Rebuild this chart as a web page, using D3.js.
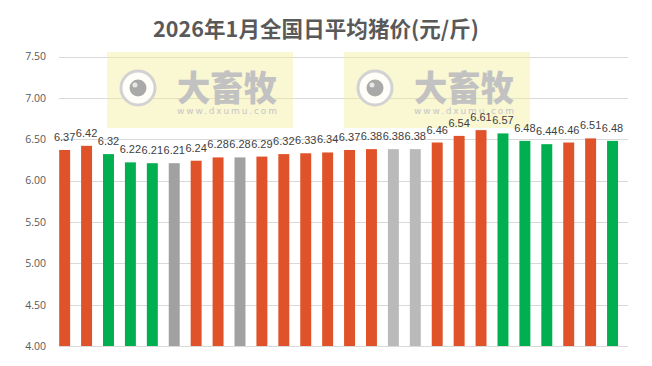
<!DOCTYPE html>
<html><head><meta charset="utf-8">
<script src="https://cdn.jsdelivr.net/npm/d3@7"></script>
<style>body{margin:0;background:#fff}svg{display:block}</style>
</head><body>
<svg id="c" width="652" height="366"></svg>
<script>
const title = "2026年1月全国日平均猪价(元/斤)";
const days = d3.range(1, 27).map(d => "1月" + d + "日");
const prices = [6.37,6.42,6.32,6.22,6.21,6.21,6.24,6.28,6.28,6.29,6.32,6.33,6.34,6.37,6.38,6.38,6.38,6.46,6.54,6.61,6.57,6.48,6.44,6.46,6.51,6.48];
const trend = ["up","up","down","down","down","flat","up","up","flat","up","up","up","up","up","up","flat2","flat2","up","up","up","down","down","down","up","up","down"];
const yTicks = [4.0,4.5,5.0,5.5,6.0,6.5,7.0,7.5];
const colors = {up:"#E0532A", down:"#00B050", flat:"#A1A1A1", flat2:"#BABABA"};

const svg = d3.select("#c");
const x = d3.scaleBand().domain(days).range([53.7, 623.5]).paddingInner(0.5).paddingOuter(0.25);
const y = d3.scaleLinear().domain([4, 7.5]).range([346, 56.5]);
const gridX0 = 59, gridX1 = 628;

// title
svg.append("text").attr("x", 153).attr("y", 36.5)
  .attr("textLength", 326).attr("lengthAdjust", "spacing")
  .style("font-family", "'Noto Sans CJK SC', sans-serif").style("font-weight", "bold")
  .style("font-size", "21.5px").style("fill", "#595959").text(title);

// gridlines
svg.append("g").selectAll("line").data(yTicks).join("line")
  .attr("x1", gridX0).attr("x2", gridX1)
  .attr("y1", d => Math.round(y(d)) + 0.5).attr("y2", d => Math.round(y(d)) + 0.5)
  .attr("stroke", "#d9d9d9").attr("stroke-width", 1);

// y labels via axis
const yAxis = d3.axisLeft(y).tickValues(yTicks).tickFormat(d3.format(".2f")).tickSize(0).tickPadding(0);
const ga = svg.append("g").attr("transform", "translate(46,0)").call(yAxis);
ga.select(".domain").remove();
ga.selectAll("text").style("font-family", "'Open Sans', sans-serif").style("font-size", "10.5px").style("fill", "#595959");

// watermarks
function watermark(x0, y0) {
  const g = svg.append("g").attr("transform", `translate(${x0},${y0})`);
  g.append("rect").attr("width", 186).attr("height", 76).attr("fill", "rgba(244,236,150,0.42)");
  g.append("circle").attr("cx", 31).attr("cy", 36).attr("r", 17).attr("fill", "rgba(255,255,255,0.85)").attr("stroke", "#d2d2d2").attr("stroke-width", 3);
  g.append("circle").attr("cx", 31).attr("cy", 36).attr("r", 8.5).attr("fill", "#a9a9a9");
  g.append("circle").attr("cx", 28).attr("cy", 33).attr("r", 2.5).attr("fill", "#e8e8e8");
  g.append("text").attr("x", 70).attr("y", 49).attr("textLength", 100).attr("lengthAdjust", "spacingAndGlyphs")
    .style("font-family", "'Noto Sans CJK SC', sans-serif").style("font-weight", "900").style("font-size", "35px")
    .style("fill", "#c2c2c2").text("大畜牧");
  g.append("text").attr("x", 70).attr("y", 62).attr("textLength", 100).attr("lengthAdjust", "spacing")
    .style("font-family", "'DejaVu Sans', sans-serif").style("font-size", "9px")
    .style("fill", "#c6c6c6").text("www.dxumu.com");
}
watermark(107, 52);
watermark(344, 52);

// bars
svg.append("g").selectAll("rect").data(prices).join("rect")
  .attr("x", (d, i) => x(days[i])).attr("width", x.bandwidth())
  .attr("y", d => y(d)).attr("height", d => y(4) - y(d))
  .attr("fill", (d, i) => colors[trend[i]]);

// value labels
svg.append("g").selectAll("text").data(prices).join("text")
  .attr("x", (d, i) => x(days[i]) + x.bandwidth() / 2).attr("y", d => y(d) - 9)
  .attr("text-anchor", "middle")
  .style("font-family", "'Liberation Sans', sans-serif").style("font-size", "11px").style("fill", "#404040")
  .text(d => d.toFixed(2));
</script>
</body></html>
